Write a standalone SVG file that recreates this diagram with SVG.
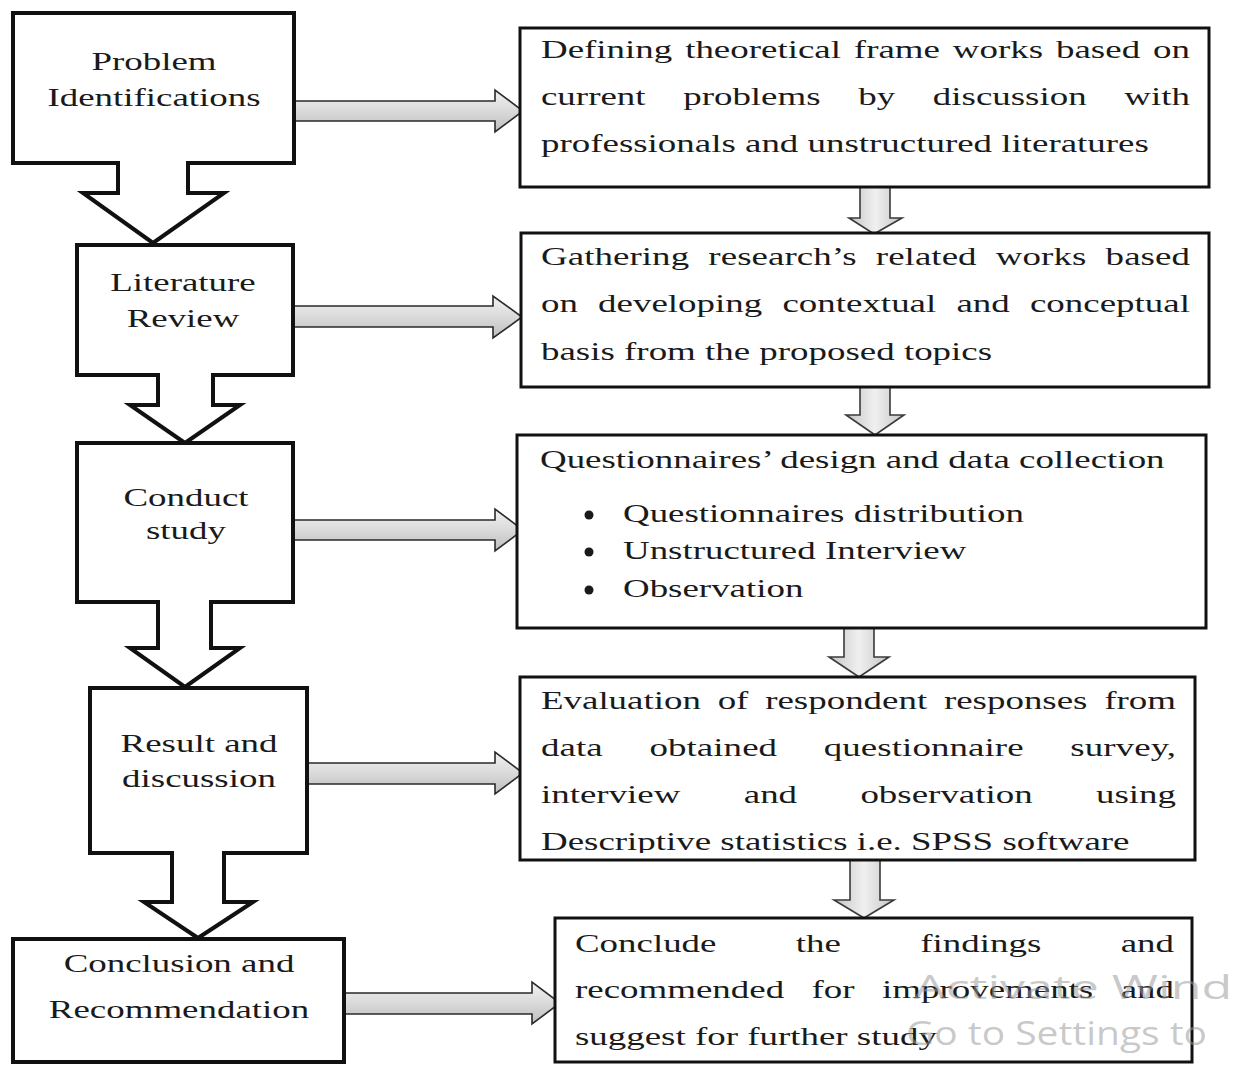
<svg xmlns="http://www.w3.org/2000/svg" width="1234" height="1065" viewBox="0 0 1234 1065">
<style>
.t{font-family:"Liberation Serif","Times New Roman",serif;font-size:26px;fill:#1a1a1a}
.c{text-anchor:middle}
.lb{fill:#fff;stroke:#111;stroke-width:4;stroke-linejoin:miter}
.rb{fill:#fff;stroke:#111;stroke-width:3}
.ha{fill:url(#gh);stroke:#2a2a2a;stroke-width:1.6;stroke-linejoin:miter}
.va{fill:url(#gv);stroke:#3a3a3a;stroke-width:1.6;stroke-linejoin:miter}
.wm{font-family:"Open Sans","Noto Sans",sans-serif;font-size:32px;fill:#9a9a9a;fill-opacity:.55}
</style>
<defs>
<linearGradient id="gh" x1="0" y1="0" x2="0" y2="1">
<stop offset="0" stop-color="#f2f2f2"/><stop offset=".5" stop-color="#dadada"/><stop offset="1" stop-color="#bdbdbd"/>
</linearGradient>
<linearGradient id="gv" x1="0" y1="0" x2="1" y2="0">
<stop offset="0" stop-color="#c4c4c4"/><stop offset=".5" stop-color="#f0f0f0"/><stop offset="1" stop-color="#c4c4c4"/>
</linearGradient>
<clipPath id="clip4"><rect x="520" y="677" width="676" height="176"/></clipPath>
</defs>
<rect width="1234" height="1065" fill="#fff"/>

<g id="connectors">
<path class="ha" d="M295,101 H495 V90 L523,111 L495,132 V121 H295 Z"/>
<path class="ha" d="M293,306 H493 V296 L522,317 L493,338 V327 H293 Z"/>
<path class="ha" d="M293,520 H495 V509 L523,530 L495,551 V540 H293 Z"/>
<path class="ha" d="M307,763 H495 V752 L523,773 L495,794 V784 H307 Z"/>
<path class="ha" d="M345,993 H532 V982 L560,1003 L532,1024 V1014 H345 Z"/>
<path class="va" d="M860,187 V218 H849 L874,234 L902,218 H890 V187 Z"/>
<path class="va" d="M860,387 V415 H846 L875,435 L904,415 H890 V387 Z"/>
<path class="va" d="M844,628 V657 H829 L859,677 L889,657 H874 V628 Z"/>
<path class="va" d="M850,860 V900 H834 L864,918 L894,900 H880 V860 Z"/>
</g>

<g id="problem-identifications">
<path class="lb" d="M13,13 H294 V163 H188 V193 H224 L153,243 L83,193 H118 V163 H13 Z"/>
<text class="t c" transform="translate(154,70) scale(1.42,1)">Problem</text>
<text class="t c" transform="translate(154,106) scale(1.42,1)">Identifications</text>
</g>

<g id="literature-review">
<path class="lb" d="M77,245 H293 V375 H213 V405 H240 L185,443 L130,405 H158 V375 H77 Z"/>
<text class="t c" transform="translate(183,291) scale(1.42,1)">Literature</text>
<text class="t c" transform="translate(183,327) scale(1.42,1)">Review</text>
</g>

<g id="conduct-study">
<path class="lb" d="M77,443 H293 V602 H211 V648 H240 L185,687 L130,648 H158 V602 H77 Z"/>
<text class="t c" transform="translate(186,506) scale(1.42,1)">Conduct</text>
<text class="t c" transform="translate(186,539) scale(1.42,1)">study</text>
</g>

<g id="result-discussion">
<path class="lb" d="M90,688 H307 V853 H224 V902 H253 L198,938 L144,902 H172 V853 H90 Z"/>
<text class="t c" transform="translate(199,752) scale(1.42,1)">Result and</text>
<text class="t c" transform="translate(199,787) scale(1.42,1)">discussion</text>
</g>

<g id="conclusion-recommendation">
<rect class="lb" x="13" y="939" width="331" height="123"/>
<text class="t c" transform="translate(179,972) scale(1.42,1)">Conclusion and</text>
<text class="t c" transform="translate(179,1018) scale(1.42,1)">Recommendation</text>
</g>

<g id="defining-frameworks">
<rect class="rb" x="520" y="28" width="689" height="159"/>
<text class="t" transform="translate(541,58) scale(1.42,1)" word-spacing="2.6" textLength="457" lengthAdjust="spacing">Defining theoretical frame works based on</text>
<text class="t" transform="translate(541,105) scale(1.42,1)" word-spacing="20" textLength="457" lengthAdjust="spacing">current problems by discussion with</text>
<text class="t" transform="translate(541,152) scale(1.42,1)">professionals and unstructured literatures</text>
</g>

<g id="gathering-works">
<rect class="rb" x="521" y="233" width="688" height="154"/>
<text class="t" transform="translate(541,265) scale(1.42,1)" word-spacing="7" textLength="457" lengthAdjust="spacing">Gathering research’s related works based</text>
<text class="t" transform="translate(541,312) scale(1.42,1)" word-spacing="7.7" textLength="457" lengthAdjust="spacing">on developing contextual and conceptual</text>
<text class="t" transform="translate(541,360) scale(1.42,1)">basis from the proposed topics</text>
</g>

<g id="questionnaire-design">
<rect class="rb" x="517" y="435" width="689" height="193"/>
<text class="t" transform="translate(540,468) scale(1.42,1)">Questionnaires’ design and data collection</text>
<circle cx="589" cy="515" r="4.5" fill="#1a1a1a"/>
<circle cx="589" cy="552" r="4.5" fill="#1a1a1a"/>
<circle cx="589" cy="590" r="4.5" fill="#1a1a1a"/>
<text class="t" transform="translate(623,522) scale(1.42,1)">Questionnaires distribution</text>
<text class="t" transform="translate(623,559) scale(1.42,1)">Unstructured Interview</text>
<text class="t" transform="translate(623,597) scale(1.42,1)">Observation</text>
</g>

<g id="evaluation">
<rect class="rb" x="520" y="677" width="675" height="183"/>
<text class="t" transform="translate(541,709) scale(1.42,1)" word-spacing="5.3" textLength="447.2" lengthAdjust="spacing">Evaluation of respondent responses from</text>
<text class="t" transform="translate(541,756) scale(1.42,1)" word-spacing="26.3" textLength="447.2" lengthAdjust="spacing">data obtained questionnaire survey,</text>
<text class="t" transform="translate(541,803) scale(1.42,1)" word-spacing="38.1" textLength="447.2" lengthAdjust="spacing">interview and observation using</text>
<g clip-path="url(#clip4)">
<text class="t" transform="translate(541,850) scale(1.42,1)">Descriptive statistics i.e. SPSS software</text>
</g>
</g>

<g id="conclude-findings">
<rect class="rb" x="555" y="918" width="637" height="144"/>
<text class="t" transform="translate(575,952) scale(1.42,1)" word-spacing="49.4" textLength="421.8" lengthAdjust="spacing">Conclude the findings and</text>
<text class="t" transform="translate(575,998) scale(1.42,1)" word-spacing="12.8" textLength="421.8" lengthAdjust="spacing">recommended for improvements and</text>
<text class="t" transform="translate(575,1045) scale(1.42,1)">suggest for further study</text>
</g>

<g id="watermark">
<text class="wm" x="914" y="999" textLength="318" lengthAdjust="spacingAndGlyphs">Activate Wind</text>
<text class="wm" x="906" y="1045" textLength="301" lengthAdjust="spacingAndGlyphs">Go to Settings to</text>
</g>
</svg>
